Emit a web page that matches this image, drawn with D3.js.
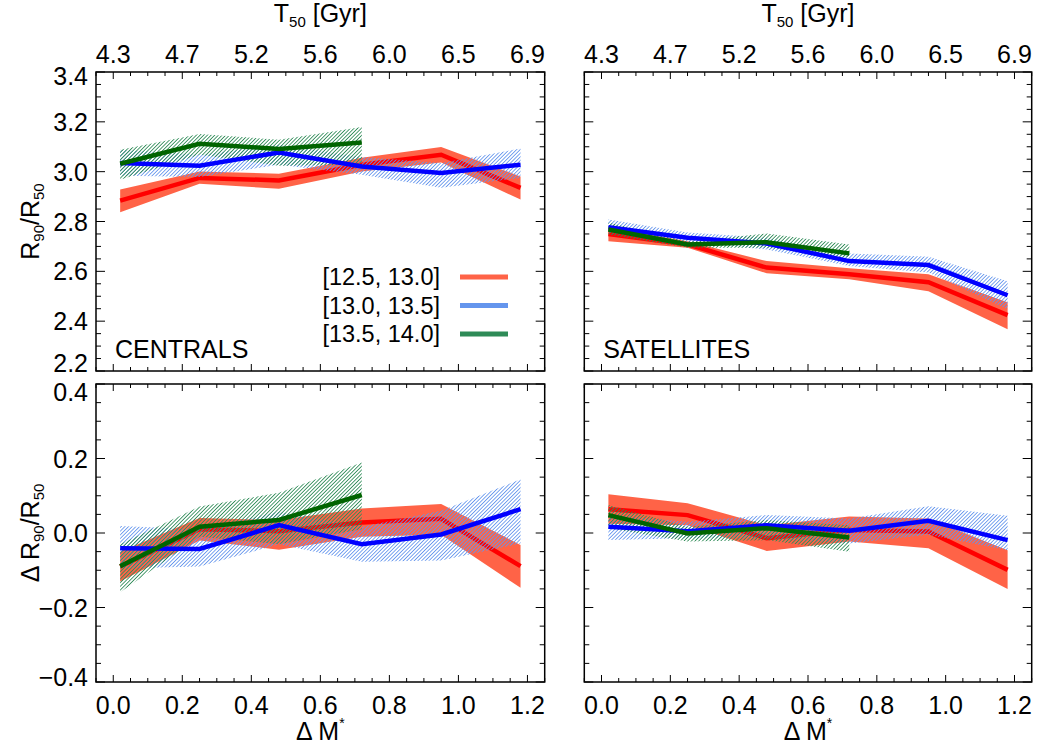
<!DOCTYPE html>
<html><head><meta charset="utf-8">
<script src="https://cdn.jsdelivr.net/npm/d3@7"></script>
<style>body{margin:0;background:#fff}svg{display:block}text{font-family:"Liberation Sans",Arial,Helvetica,sans-serif;fill:#000}</style>
</head><body>
<svg id="c" width="1037" height="746"></svg>
<script>
// ---------- data ----------
const xVals = [0.02, 0.25, 0.48, 0.72, 0.95, 1.18];
const xTicks = [0.0, 0.2, 0.4, 0.6, 0.8, 1.0, 1.2];
const xTickLabels = ["0.0","0.2","0.4","0.6","0.8","1.0","1.2"];
const t50Labels = ["4.3","4.7","5.2","5.6","6.0","6.5","6.9"];
const topYTicks = [2.2, 2.4, 2.6, 2.8, 3.0, 3.2, 3.4];
const botYTicks = [-0.4, -0.2, 0.0, 0.2, 0.4];
const legendLabels = ["[12.5, 13.0]", "[13.0, 13.5]", "[13.5, 14.0]"];

// Centrals, R90/R50
const cenTopRed    = [2.884, 2.975, 2.965, 3.028, 3.068, 2.935];
const cenTopRedLo  = [2.837, 2.952, 2.931, 3.001, 3.037, 2.888];
const cenTopRedHi  = [2.928, 3.001, 2.992, 3.056, 3.099, 2.981];
const cenTopBlue   = [3.035, 3.024, 3.077, 3.021, 2.995, 3.028];
const cenTopBlueLo = [2.984, 2.979, 3.028, 2.988, 2.935, 2.975];
const cenTopBlueHi = [3.088, 3.068, 3.108, 3.059, 3.035, 3.093];
const cenTopGreen   = [3.032, 3.112, 3.091, 3.117];
const cenTopGreenLo = [2.968, 3.068, 3.024, 3.028];
const cenTopGreenHi = [3.088, 3.151, 3.128, 3.179];

// Satellites, R90/R50
const satTopRed    = [2.750, 2.708, 2.615, 2.588, 2.556, 2.424];
const satTopRedLo  = [2.721, 2.695, 2.592, 2.568, 2.520, 2.368];
const satTopRedHi  = [2.776, 2.721, 2.641, 2.612, 2.588, 2.476];
const satTopBlue   = [2.777, 2.735, 2.712, 2.641, 2.625, 2.504];
const satTopBlueLo = [2.755, 2.716, 2.688, 2.621, 2.595, 2.448];
const satTopBlueHi = [2.808, 2.756, 2.735, 2.672, 2.659, 2.560];
const satTopGreen   = [2.768, 2.708, 2.717, 2.672];
const satTopGreenLo = [2.748, 2.695, 2.695, 2.655];
const satTopGreenHi = [2.796, 2.720, 2.752, 2.708];

// Centrals, delta R90/R50
const cenBotRed    = [-0.090, 0.010, 0.005, 0.028, 0.038, -0.089];
const cenBotRedLo  = [-0.130, -0.020, -0.045, -0.010, -0.005, -0.147];
const cenBotRedHi  = [-0.050, 0.040, 0.035, 0.066, 0.078, -0.032];
const cenBotBlue   = [-0.041, -0.043, 0.021, -0.030, -0.004, 0.064];
const cenBotBlueLo = [-0.095, -0.090, -0.030, -0.077, -0.074, -0.028];
const cenBotBlueHi = [0.019, 0.010, 0.057, 0.017, 0.060, 0.144];
const cenBotGreen   = [-0.089, 0.017, 0.035, 0.102];
const cenBotGreenLo = [-0.159, -0.010, -0.030, 0.010];
const cenBotGreenHi = [-0.030, 0.071, 0.108, 0.189];

// Satellites, delta R90/R50
const satBotRed    = [0.064, 0.048, -0.014, 0.008, 0.004, -0.099];
const satBotRedLo  = [0.025, 0.021, -0.048, -0.023, -0.041, -0.150];
const satBotRedHi  = [0.104, 0.080, 0.021, 0.044, 0.039, -0.046];
const satBotBlue   = [0.017, 0.005, 0.021, 0.006, 0.033, -0.019];
const satBotBlueLo = [-0.019, -0.014, -0.014, -0.028, -0.005, -0.046];
const satBotBlueHi = [0.048, 0.030, 0.048, 0.039, 0.072, 0.046];
const satBotGreen   = [0.048, -0.001, 0.013, -0.012];
const satBotGreenLo = [0.013, -0.023, -0.019, -0.050];
const satBotGreenHi = [0.075, 0.017, 0.035, 0.021];

// ---------- drawing ----------
const svg = d3.select("#c");
const FS = 25;
const defs = svg.append("defs");
function hatch(id, color){
  const p = defs.append("pattern").attr("id", id).attr("patternUnits","userSpaceOnUse")
    .attr("width", 2.6).attr("height", 2.6).attr("patternTransform","rotate(45)");
  p.append("line").attr("x1",0).attr("y1",0).attr("x2",0).attr("y2",2.6)
    .attr("stroke", color).attr("stroke-width", 1.7);
}
hatch("hb", "#6495ed");
hatch("hg", "#2e8b57");

const cols = [{x0:96, x1:544.7}, {x0:584.3, x1:1031.7}];
const rows = [{y0:72, y1:371, dom:[2.2,3.4], ticks:topYTicks, fmt:d3.format(".1f")},
              {y0:384, y1:682, dom:[-0.4,0.4], ticks:botYTicks, fmt:d3.format(".1f")}];

const panels = [
  {c:0, r:0, label:"CENTRALS", s:[[cenTopRed,cenTopRedLo,cenTopRedHi],[cenTopBlue,cenTopBlueLo,cenTopBlueHi],[cenTopGreen,cenTopGreenLo,cenTopGreenHi]]},
  {c:1, r:0, label:"SATELLITES", s:[[satTopRed,satTopRedLo,satTopRedHi],[satTopBlue,satTopBlueLo,satTopBlueHi],[satTopGreen,satTopGreenLo,satTopGreenHi]]},
  {c:0, r:1, s:[[cenBotRed,cenBotRedLo,cenBotRedHi],[cenBotBlue,cenBotBlueLo,cenBotBlueHi],[cenBotGreen,cenBotGreenLo,cenBotGreenHi]]},
  {c:1, r:1, s:[[satBotRed,satBotRedLo,satBotRedHi],[satBotBlue,satBotBlueLo,satBotBlueHi],[satBotGreen,satBotGreenLo,satBotGreenHi]]}
];
const bandFill = ["#ff6347", "url(#hb)", "url(#hg)"];
const lineCol = ["#ff0000", "#0000ff", "#006400"];

function range(a, b, step){ const o=[]; for(let v=a; v<=b+1e-9; v+=step) o.push(+v.toFixed(4)); return o; }

panels.forEach(p => {
  const C = cols[p.c], R = rows[p.r];
  const x = d3.scaleLinear().domain([-0.05, 1.25]).range([C.x0, C.x1]);
  const y = d3.scaleLinear().domain(R.dom).range([R.y1, R.y0]);
  const g = svg.append("g");
  const clipId = "clip"+p.c+p.r;
  defs.append("clipPath").attr("id", clipId).append("rect")
    .attr("x", C.x0).attr("y", R.y0).attr("width", C.x1-C.x0).attr("height", R.y1-R.y0);
  const dg = g.append("g").attr("clip-path", `url(#${clipId})`);
  const mk = (arr, lo, hi) => arr.map((v,i)=>({x:xVals[i], v, lo:lo[i], hi:hi[i]}));
  const area = d3.area().x(d=>x(d.x)).y0(d=>y(d.lo)).y1(d=>y(d.hi));
  const line = d3.line().x(d=>x(d.x)).y(d=>y(d.v));
  const data = p.s.map(s => mk(s[0], s[1], s[2]));
  dg.append("path").datum(data[0]).attr("d", area).attr("fill", bandFill[0]);
  dg.append("path").datum(data[0]).attr("d", line).attr("fill","none").attr("stroke", lineCol[0]).attr("stroke-width", 4.5);
  dg.append("path").datum(data[1]).attr("d", area).attr("fill", bandFill[1]);
  dg.append("path").datum(data[2]).attr("d", area).attr("fill", bandFill[2]);
  dg.append("path").datum(data[1]).attr("d", line).attr("fill","none").attr("stroke", lineCol[1]).attr("stroke-width", 4.5);
  dg.append("path").datum(data[2]).attr("d", line).attr("fill","none").attr("stroke", lineCol[2]).attr("stroke-width", 4.5);

  g.append("rect").attr("x", C.x0).attr("y", R.y0).attr("width", C.x1-C.x0).attr("height", R.y1-R.y0)
    .attr("fill","none").attr("stroke","#000").attr("stroke-width",1.5);

  const xMinor = range(-0.05, 1.25, 0.05);
  xMinor.forEach(v => {
    const major = xTicks.some(t => Math.abs(t-v) < 1e-6);
    const L = major ? 7 : 4;
    const px = x(v);
    g.append("line").attr("x1",px).attr("x2",px).attr("y1",R.y1).attr("y2",R.y1-L).attr("stroke","#000").attr("stroke-width",1);
    g.append("line").attr("x1",px).attr("x2",px).attr("y1",R.y0).attr("y2",R.y0+L).attr("stroke","#000").attr("stroke-width",1);
  });
  const yMinor = range(R.dom[0], R.dom[1], 0.05);
  yMinor.forEach(v => {
    const major = R.ticks.some(t => Math.abs(t-v) < 1e-6);
    const L = major ? 9 : 5;
    const py = y(v);
    g.append("line").attr("x1",C.x0).attr("x2",C.x0+L).attr("y1",py).attr("y2",py).attr("stroke","#000").attr("stroke-width",1);
    g.append("line").attr("x1",C.x1).attr("x2",C.x1-L).attr("y1",py).attr("y2",py).attr("stroke","#000").attr("stroke-width",1);
  });

  if (p.c === 0) {
    R.ticks.forEach((t, i) => {
      let shift = 0;
      if (i === 0) shift = (p.r === 0) ? -8 : -5;
      if (i === R.ticks.length - 1) shift = (p.r === 1) ? 8 : 4;
      g.append("text").attr("x", C.x0-8).attr("y", y(t) + shift).attr("dy","0.36em")
        .attr("text-anchor","end").attr("font-size",FS).text(R.fmt(t));
    });
  }
  if (p.r === 1) {
    xTicks.forEach((t,i) => {
      g.append("text").attr("x", x(t)).attr("y", 714).attr("text-anchor","middle")
        .attr("font-size",FS).text(xTickLabels[i]);
    });
    const t = g.append("text").attr("x", (C.x0+C.x1)/2).attr("y", 740).attr("text-anchor","middle").attr("font-size",FS);
    t.append("tspan").text("\u0394 M");
    t.append("tspan").attr("font-size",14).attr("dy",-12).text("*");
  }
  if (p.r === 0) {
    xTicks.forEach((t,i) => {
      g.append("text").attr("x", x(t)).attr("y", 63).attr("text-anchor","middle")
        .attr("font-size",FS).text(t50Labels[i]);
    });
    const t = g.append("text").attr("x", (C.x0+C.x1)/2).attr("y", 22).attr("text-anchor","middle").attr("font-size",FS);
    t.append("tspan").text("T");
    t.append("tspan").attr("font-size",15).attr("dy",5).text("50");
    t.append("tspan").attr("dy",-5).text(" [Gyr]");
    g.append("text").attr("x", C.x0+19).attr("y", 358).attr("font-size",FS).text(p.label);
  }
});

function ylab(cy, prefix){
  const t = svg.append("text").attr("transform", `translate(39,${cy}) rotate(-90)`)
    .attr("text-anchor","middle").attr("font-size",FS);
  t.append("tspan").text(prefix + "R");
  t.append("tspan").attr("font-size",15).attr("dy",5).text("90");
  t.append("tspan").attr("dy",-5).text("/R");
  t.append("tspan").attr("font-size",15).attr("dy",5).text("50");
}
ylab(221.5, "");
ylab(533, "\u0394 ");

const legCols = ["#ff6347", "#6495ed", "#2e8b57"];
const legY = [277, 305.5, 334];
legendLabels.forEach((lab, i) => {
  svg.append("text").attr("x", 440).attr("y", legY[i]).attr("dy","0.36em").attr("text-anchor","end")
    .attr("font-size",23.5).text(lab);
  svg.append("line").attr("x1",460).attr("x2",508).attr("y1",legY[i]).attr("y2",legY[i])
    .attr("stroke", legCols[i]).attr("stroke-width",5);
});
</script>
</body></html>
